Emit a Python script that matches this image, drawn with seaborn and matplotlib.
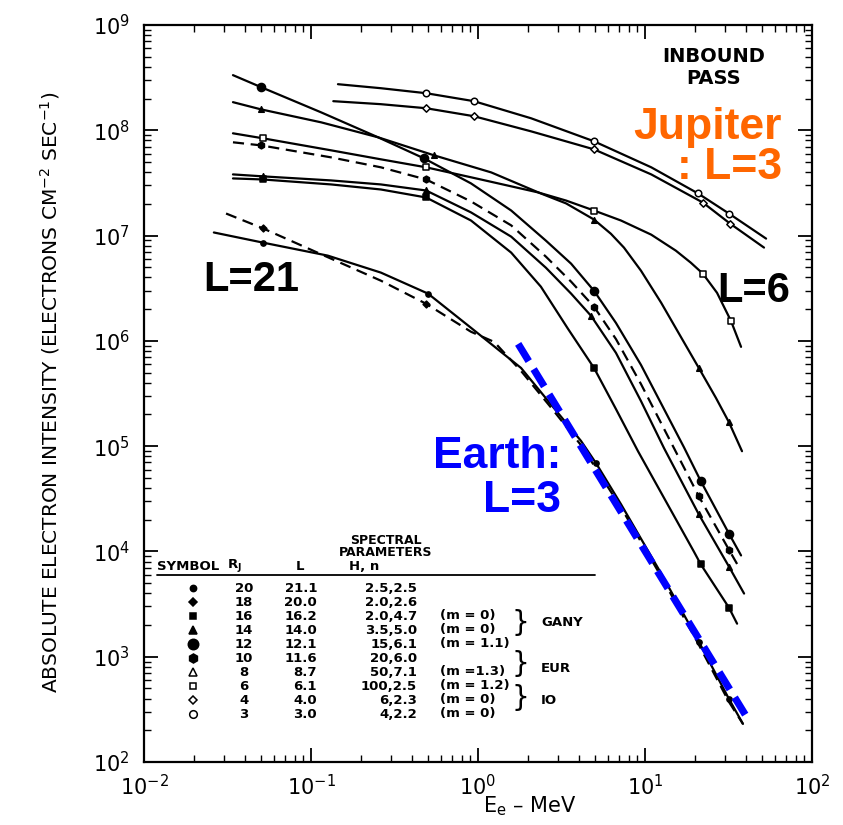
import numpy as np
import matplotlib
matplotlib.use("Agg")
import matplotlib.pyplot as plt
from matplotlib.ticker import LogLocator, NullFormatter
import seaborn as sns

# ---------------- spectra (energy in MeV, intensity in el. cm^-2 s^-1) ----------------
E_L30 = [0.145, 0.262, 0.489, 0.946, 2.08, 4.95, 10.9, 20.8, 31.8, 53.1]
J_L30 = [2.74e8, 2.51e8, 2.25e8, 1.89e8, 1.30e8, 7.86e7, 4.45e7, 2.51e7, 1.62e7, 9.36e6]
Ep_L30 = [0.489, 0.946, 4.95, 20.8, 31.8]
Jp_L30 = [2.25e8, 1.89e8, 7.86e7, 2.51e7, 1.62e7]

E_L40 = [0.136, 0.262, 0.489, 0.946, 2.08, 4.95, 10.9, 22.2, 32.3, 51.6]
J_L40 = [1.89e8, 1.77e8, 1.62e8, 1.36e8, 9.77e7, 6.59e7, 3.81e7, 2.06e7, 1.30e7, 7.69e6]
Ep_L40 = [0.489, 0.946, 4.95, 22.2, 32.3]
Jp_L40 = [1.62e8, 1.36e8, 6.59e7, 2.06e7, 1.30e7]

E_L61 = [0.0341, 0.0516, 0.132, 0.262, 0.489, 1.04, 2.29, 3.37, 4.95, 7.18, 10.9, 15.3, 18.8,
         22.2, 27.0, 32.7, 37.6]
J_L61 = [9.36e7, 8.39e7, 6.45e7, 5.30e7, 4.45e7, 3.41e7, 2.57e7, 2.15e7, 1.73e7, 1.39e7, 1.02e7,
         7.19e6, 5.53e6, 4.35e6, 2.86e6, 1.55e6, 8.77e5]
Ep_L61 = [0.0516, 0.489, 4.95, 22.2, 32.7]
Jp_L61 = [8.39e7, 4.45e7, 1.73e7, 4.35e6, 1.55e6]

E_L87 = [0.0341, 0.0502, 0.115, 0.252, 0.546, 1.20, 2.38, 3.37, 4.95, 6.25, 7.48, 9.46, 12.5,
         16.4, 21.0, 26.6, 31.8, 38.1]
J_L87 = [1.85e8, 1.58e8, 1.19e8, 8.58e7, 5.78e7, 3.98e7, 2.51e7, 2.02e7, 1.42e7, 1.04e7, 7.69e6,
         4.64e6, 2.30e6, 1.09e6, 5.53e5, 2.87e5, 1.69e5, 8.95e4]
Ep_L87 = [0.0502, 0.546, 4.95, 21.0, 31.8]
Jp_L87 = [1.58e8, 5.78e7, 1.42e7, 5.53e5, 1.69e5]

E_L121 = [0.0341, 0.0502, 0.115, 0.252, 0.475, 0.908, 1.58, 2.55, 3.61, 4.95, 6.70, 9.46, 17.1,
          21.6, 31.8, 37.6]
J_L121 = [3.34e8, 2.57e8, 1.48e8, 8.58e7, 5.41e7, 3.13e7, 1.73e7, 8.95e6, 5.41e6, 2.99e6, 1.48e6,
          5.91e5, 9.77e4, 4.64e4, 1.48e4, 9.16e3]
Ep_L121 = [0.0502, 0.475, 4.95, 21.6, 31.8]
Jp_L121 = [2.57e8, 5.41e7, 2.99e6, 4.64e4, 1.48e4]

E_L116 = [0.0341, 0.0502, 0.132, 0.262, 0.489, 0.908, 1.58, 2.55, 3.61, 4.95, 6.70, 9.46, 13.4,
          21.0, 31.8, 36.6]
J_L116 = [7.69e7, 7.19e7, 5.53e7, 4.45e7, 3.41e7, 2.11e7, 1.25e7, 6.31e6, 3.65e6, 2.11e6, 1.04e6,
          3.89e5, 1.33e5, 3.34e4, 1.04e4, 7.04e3]
Ep_L116 = [0.0502, 0.489, 4.95, 21.0, 31.8]
Jp_L116 = [7.19e7, 3.41e7, 2.11e6, 3.34e4, 1.04e4]

E_L140 = [0.0341, 0.0516, 0.132, 0.262, 0.489, 0.908, 1.58, 2.55, 3.61, 4.75, 6.70, 9.46, 13.0,
          21.0, 31.8, 39.2]
J_L140 = [3.81e7, 3.65e7, 3.34e7, 3.06e7, 2.68e7, 1.66e7, 9.77e6, 4.95e6, 2.81e6, 1.73e6, 7.69e5,
          2.68e5, 9.57e4, 2.25e4, 7.19e3, 3.98e3]
Ep_L140 = [0.0516, 0.489, 4.75, 21.0, 31.8]
Jp_L140 = [3.65e7, 2.68e7, 1.73e6, 2.25e4, 7.19e3]

E_L162 = [0.0341, 0.0516, 0.132, 0.262, 0.489, 0.908, 1.58, 2.38, 3.46, 4.95, 6.70, 9.08, 19.6,
          21.6, 31.8, 35.6]
J_L162 = [3.49e7, 3.41e7, 3.06e7, 2.74e7, 2.30e7, 1.39e7, 6.89e6, 3.27e6, 1.30e6, 5.53e5, 2.25e5,
          8.95e4, 1.0e4, 7.52e3, 2.93e3, 2.06e3]
Ep_L162 = [0.0516, 0.489, 4.95, 21.6, 31.8]
Jp_L162 = [3.41e7, 2.30e7, 5.53e5, 7.52e3, 2.93e3]

E_L200 = [0.0310, 0.0516, 0.120, 0.262, 0.489, 0.908, 1.25, 1.81, 2.85, 4.14, 7.18, 12.5, 21.0,
          31.8, 38.6]
J_L200 = [1.62e7, 1.17e7, 6.45e6, 3.73e6, 2.25e6, 1.22e6, 9.77e5, 5.18e5, 2.15e5, 1.02e5, 2.62e4,
          5.78e3, 1.30e3, 373, 230]
Ep_L200 = [0.0516, 0.489]
Jp_L200 = [1.17e7, 2.25e6]

E_L211 = [0.0262, 0.0516, 0.126, 0.262, 0.502, 0.908, 1.81, 2.85, 4.14, 5.09, 7.18, 12.5, 21.0,
          31.8, 38.6]
J_L211 = [1.07e7, 8.57e6, 6.45e6, 4.45e6, 2.81e6, 1.33e6, 5.53e5, 2.30e5, 1.12e5, 6.89e4, 2.81e4,
          6.17e3, 1.39e3, 398, 230]
Ep_L211 = [0.0516, 0.502, 5.09, 21.0, 31.8]
Jp_L211 = [8.57e6, 2.81e6, 6.89e4, 1.39e3, 398]

# Earth's radiation belt at L = 3, for comparison
E_earth = [1.74, 41.2]
J_earth = [9.36e5, 258]

# ---------------- table of spectral parameters ----------------
tab_rj = ["20", "18", "16", "14", "12", "10", "8", "6", "4", "3"]
tab_L = ["21.1", "20.0", "16.2", "14.0", "12.1", "11.6", "8.7", "6.1", "4.0", "3.0"]
tab_kn = ["2.5,2.5", "2.0,2.6", "2.0,4.7", "3.5,5.0", "15,6.1", "20,6.0", "50,7.1",
          "100,2.5", "6,2.3", "4,2.2"]
tab_m = ["", "", "(m = 0)", "(m = 0)", "(m = 1.1)", "", "(m =1.3)", "(m = 1.2)",
         "(m = 0)", "(m = 0)"]
tab_moons = ["GANY", "EUR", "IO"]

# ---------------- figure ----------------
sns.set_theme(style="ticks")
plt.rcParams["font.family"] = ["DejaVu Sans"]
plt.rcParams["mathtext.fontset"] = "dejavusans"

W, H = 843, 825
fig = plt.figure(figsize=(W / 100, H / 100), dpi=100)
fig.patch.set_facecolor("white")
ax = fig.add_axes([144 / W, 1 - 762 / H, (812 - 144) / W, (762 - 25) / H])
ax.set_facecolor("white")
ax.set_xscale("log")
ax.set_yscale("log")


def fx(px):
    return px / W


def fy(py):
    return 1 - py / H


def curve(E, J, dashed=False):
    sns.lineplot(x=E, y=J, ax=ax, color="black", linewidth=1.6, estimator=None, sort=False,
                 linestyle=(0, (5, 3)) if dashed else "-", zorder=2)


def points(E, J, marker, size, filled=True):
    sns.scatterplot(x=E, y=J, ax=ax, marker=marker, s=size,
                    color="black" if filled else "white", edgecolor="black",
                    linewidth=1.1, zorder=3)


curve(E_L30, J_L30)
curve(E_L40, J_L40)
curve(E_L61, J_L61)
curve(E_L87, J_L87)
curve(E_L121, J_L121)
curve(E_L116, J_L116, dashed=True)
curve(E_L140, J_L140)
curve(E_L162, J_L162)
curve(E_L200, J_L200, dashed=True)
curve(E_L211, J_L211)

points(Ep_L30, Jp_L30, "o", 22, filled=False)
points(Ep_L40, Jp_L40, "D", 14, filled=False)
points(Ep_L61, Jp_L61, "s", 16, filled=False)
points(Ep_L87, Jp_L87, "^", 16)
points(Ep_L121, Jp_L121, "o", 34)
points(Ep_L116, Jp_L116, "h", 24)
points(Ep_L140, Jp_L140, "^", 16)
points(Ep_L162, Jp_L162, "s", 14)
points(Ep_L200, Jp_L200, "D", 12)
points(Ep_L211, Jp_L211, "o", 14)

# Earth comparison spectrum
sns.lineplot(x=E_earth, y=J_earth, ax=ax, color="#0000FF", linewidth=5.2, estimator=None,
             sort=False, linestyle=(0, (2.8, 1.3)), zorder=4)
ax.get_lines()[-1].set_dash_capstyle("butt")

ax.set_xlim(1e-2, 1e2)
ax.set_ylim(1e2, 1e9)
ax.set_xlabel("")
ax.set_ylabel("")
ax.set_xticks([1e-2, 1e-1, 1e0, 1e1, 1e2])
ax.set_yticks([1e2, 1e3, 1e4, 1e5, 1e6, 1e7, 1e8, 1e9])
for axis in (ax.xaxis, ax.yaxis):
    axis.set_minor_locator(LogLocator(base=10, subs=np.arange(2, 10), numticks=200))
    axis.set_minor_formatter(NullFormatter())
ax.set_xlim(1e-2, 1e2)
ax.set_ylim(1e2, 1e9)
ax.tick_params(which="both", direction="in", top=True, right=True, color="black")
ax.tick_params(which="major", length=10, width=1.3, labelsize=15, labelcolor="black")
ax.tick_params(axis="x", which="major", pad=9)
ax.tick_params(axis="y", which="major", pad=10)
ax.tick_params(which="minor", length=5, width=1.0)
for sp in ax.spines.values():
    sp.set_color("black")
    sp.set_linewidth(1.6)

# axis titles
fig.text(fx(50), fy(392), r"ABSOLUTE ELECTRON INTENSITY (ELECTRONS CM$^{-2}$ SEC$^{-1}$)",
         rotation=90, ha="center", va="center", fontsize=14.5, color="black")
fig.text(fx(530), fy(806), r"E$_{\mathregular{e}}$ – MeV", ha="center", va="center",
         fontsize=15, color="black")

# panel captions
fig.text(fx(714), fy(57), "INBOUND", ha="center", va="center", fontsize=14,
         fontweight="bold", color="black")
fig.text(fx(714), fy(78), "PASS", ha="center", va="center", fontsize=14,
         fontweight="bold", color="black")

big = dict(family=["Liberation Sans", "DejaVu Sans"], fontweight="bold")
fig.text(fx(782), fy(139), "Jupiter", ha="right", va="baseline", fontsize=32,
         color="#FF6600", **big)
fig.text(fx(782), fy(179), ": L=3", ha="right", va="baseline", fontsize=32,
         color="#FF6600", **big)
fig.text(fx(561), fy(468), "Earth:", ha="right", va="baseline", fontsize=32,
         color="#0000FF", **big)
fig.text(fx(561), fy(512), "L=3", ha="right", va="baseline", fontsize=32,
         color="#0000FF", **big)
fig.text(fx(203), fy(291), "L=21", ha="left", va="baseline", fontsize=30,
         color="black", **big)
fig.text(fx(717), fy(302), "L=6", ha="left", va="baseline", fontsize=30,
         color="black", **big)

# ---------------- parameter table ----------------
tk = dict(fontsize=9.5, fontweight="bold", color="black", va="center")
hk = dict(fontsize=9, fontweight="bold", color="black", va="center")
fig.text(fx(386), fy(540), "SPECTRAL", ha="center", **hk)
fig.text(fx(386), fy(553), "PARAMETERS", ha="center", **hk)
fig.text(fx(157), fy(566), "SYMBOL", ha="left", **tk)
fig.text(fx(234), fy(566), r"R$_\mathregular{J}$", ha="center", **tk)
fig.text(fx(300), fy(566), "L", ha="center", **tk)
fig.text(fx(364), fy(566), "H, n", ha="center", **tk)
ax.plot([fx(157), fx(595)], [fy(575), fy(575)], transform=fig.transFigure, color="black",
        linewidth=1.3, clip_on=False)

sym_style = [("o", True, 4.5), ("D", True, 4), ("s", True, 4.5), ("^", True, 5.5),
             ("o", True, 7.5), ("h", True, 6.5), ("^", False, 5.5), ("s", False, 5),
             ("D", False, 4.5), ("o", False, 5.5)]
for k in range(len(tab_rj)):
    yk = 588 + 14 * k
    mk, filled, ms = sym_style[k]
    ax.plot([fx(193)], [fy(yk)], marker=mk, markersize=ms, linestyle="none",
            markerfacecolor="black" if filled else "white", markeredgecolor="black",
            markeredgewidth=1.1, transform=fig.transFigure, clip_on=False)
    fig.text(fx(244), fy(yk), tab_rj[k], ha="center", **tk)
    fig.text(fx(317), fy(yk), tab_L[k], ha="right", **tk)
    fig.text(fx(417), fy(yk), tab_kn[k], ha="right", **tk)
    if tab_m[k]:
        fig.text(fx(440), fy(yk), tab_m[k], ha="left", **tk)

for (yb, yl), name in zip([(623, 623), (664, 669), (698, 700)], tab_moons):
    fig.text(fx(520), fy(yb), "}", ha="center", va="center", fontsize=20, color="black")
    fig.text(fx(541), fy(yl), name, ha="left", **tk)

fig.savefig("out.png", dpi=100, facecolor="white")
